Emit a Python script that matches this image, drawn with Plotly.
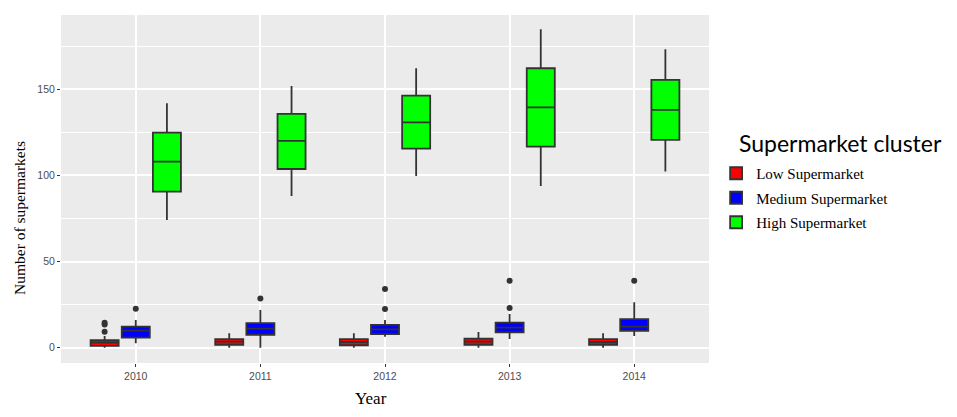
"""
Supermarket clusters per year - ggplot-style grouped boxplot
"""

import plotly.graph_objects as go

years = ['2010', '2011', '2012', '2013', '2014']
clusters = ['Low Supermarket', 'Medium Supermarket', 'High Supermarket']

# five-number summaries
low_q1 = [1.0, 1.7, 1.4, 1.7, 1.7]
low_median = [2.9, 3.5, 3.3, 3.5, 3.3]
low_q3 = [4.3, 5.0, 5.0, 5.2, 5.0]
low_lower = [0, 0, 0, 0, 0]
low_upper = [6.8, 8.3, 8.3, 9.1, 8.3]

med_q1 = [5.8, 7.5, 7.9, 8.9, 9.7]
med_median = [9.9, 11.0, 10.6, 11.6, 12.2]
med_q3 = [12.2, 14.3, 13.2, 14.5, 16.6]
med_lower = [2.5, 0, 6.4, 5.0, 6.8]
med_upper = [16.1, 21.9, 16.1, 19.5, 26.3]

high_q1 = [90.6, 103.7, 115.5, 116.7, 120.6]
high_median = [108, 120, 130.8, 139.5, 138]
high_q3 = [124.8, 135.7, 146.3, 162.2, 155.4]
high_lower = [74.1, 88, 99.7, 93.9, 102.2]
high_upper = [141.9, 151.9, 162.2, 184.8, 173.2]

# outliers: (year index, value)
low_out_year = [0, 0, 0]
low_out_val = [9.3, 13.5, 14.5]
med_out_year = [0, 1, 2, 2, 3, 3, 4]
med_out_val = [22.6, 28.6, 22.5, 34.1, 23.0, 38.9, 38.9]

fills = ['#FF0000', '#0000FF', '#00FF00']
offsets = [-0.25, 0, 0.25]  # dodge like ggplot

stats = [
    (low_q1, low_median, low_q3, low_lower, low_upper),
    (med_q1, med_median, med_q3, med_lower, med_upper),
    (high_q1, high_median, high_q3, high_lower, high_upper),
]
outliers = [(low_out_year, low_out_val), (med_out_year, med_out_val), ([], [])]

serif = 'Liberation Serif, Times New Roman, serif'

fig = go.Figure()

for k, name in enumerate(clusters):
    q1, med, q3, lo, hi = stats[k]
    xs = [i + offsets[k] for i in range(len(years))]
    fig.add_trace(go.Box(
        x=xs, q1=q1, median=med, q3=q3, lowerfence=lo, upperfence=hi,
        name=name,
        legendgroup=name,
        width=0.225,
        fillcolor=fills[k],
        line=dict(color='#333333', width=1.8),
        whiskerwidth=0,
        boxpoints=False,
        hoverinfo='y',
    ))

for k, (oy, ov) in enumerate(outliers):
    if not oy:
        continue
    fig.add_trace(go.Scatter(
        x=[i + offsets[k] for i in oy], y=ov,
        mode='markers',
        marker=dict(size=6, color='#333333'),
        showlegend=False,
        hoverinfo='y',
    ))

# titles as free text so they sit where the original put them
fig.add_annotation(
    text='Supermarket cluster',
    xref='paper', yref='paper', x=1.043, y=0.632,
    xanchor='left', yanchor='middle', showarrow=False,
    font=dict(family='Lato, sans-serif', size=23, color='black'),
)
fig.add_annotation(
    text='Year',
    xref='paper', yref='paper', x=(371 - 61) / 648, y=(363 - 398) / 348,
    xanchor='center', yanchor='middle', showarrow=False,
    font=dict(family=serif, size=17, color='black'),
)
fig.add_annotation(
    text='Number of supermarkets',
    xref='paper', yref='paper', x=(20 - 61) / 648, y=(363 - 218) / 348,
    xanchor='center', yanchor='middle', showarrow=False, textangle=-90,
    font=dict(family=serif, size=15.5, color='black'),
)

fig.update_layout(
    width=957,
    height=417,
    paper_bgcolor='white',
    plot_bgcolor='#EBEBEB',
    margin=dict(l=61, r=248, t=15, b=54),
    font=dict(family='Liberation Sans, Arial, sans-serif', color='#4D4D4D'),
    xaxis=dict(
        range=[-0.6, 4.6],
        tickvals=list(range(len(years))),
        ticktext=years,
        showgrid=True,
        gridcolor='white',
        gridwidth=1.5,
        zeroline=False,
        ticks='outside',
        ticklen=3,
        tickcolor='#333333',
        tickfont=dict(size=10.5, color='#4D4D4D'),
        automargin=False,
    ),
    yaxis=dict(
        range=[-8.9, 193.1],
        tickvals=[0, 50, 100, 150],
        showgrid=True,
        gridcolor='white',
        gridwidth=1.5,
        minor=dict(dtick=25, tick0=25, showgrid=True, gridcolor='white', gridwidth=0.6),
        zeroline=False,
        ticks='outside',
        ticklen=3,
        tickcolor='#333333',
        tickfont=dict(size=10.5, color='#4D4D4D'),
        automargin=False,
    ),
    legend=dict(
        x=1.011, y=0.592, xanchor='left', yanchor='top',
        font=dict(family=serif, size=15, color='black'),
        tracegroupgap=2,
        bgcolor='rgba(0,0,0,0)',
    ),
)

fig.write_html('out.html', config={'displayModeBar': False},
               post_script="document.body.style.margin='0';")
